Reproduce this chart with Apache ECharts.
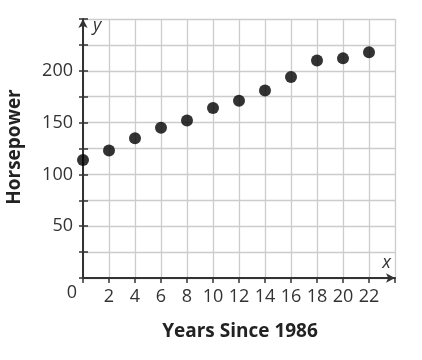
<!DOCTYPE html>
<html>
<head>
<meta charset="utf-8">
<script src="https://cdn.jsdelivr.net/npm/echarts@6/dist/echarts.min.js"></script>
<style>html,body{margin:0;padding:0;background:#fff}#c{width:422px;height:360px}</style>
</head>
<body>
<div id="c"></div>
<script>
const years = [0, 2, 4, 6, 8, 10, 12, 14, 16, 18, 20, 22];
const horsepower = [114, 123, 135, 145, 152, 164, 171, 181, 194, 210, 212, 218];
const xTickLabels = [2, 4, 6, 8, 10, 12, 14, 16, 18, 20, 22];
const yTickLabels = [50, 100, 150, 200];
const xTitle = 'Years Since 1986';
const yTitle = 'Horsepower';

const FONT = '"Open Sans", sans-serif';
const AX = '#333333';
const GRID = '#cccccc';

const chart = echarts.init(document.getElementById('c'), null, {renderer: 'canvas'});
chart.setOption({
  animation: false,
  backgroundColor: '#ffffff',
  grid: {left: 83, right: 27, top: 19, bottom: 82},
  xAxis: {
    type: 'value', min: 0, max: 24, interval: 2,
    name: 'x',
    nameLocation: 'end',
    nameGap: 0,
    nameTextStyle: {fontFamily: FONT, fontStyle: 'italic', fontSize: 18, color: AX,
      align: 'right', verticalAlign: 'bottom', padding: [0, 4, 6, 0]},
    axisLine: {show: true, lineStyle: {color: AX, width: 2},
      symbol: ['none', 'arrow'], symbolSize: [7, 9], symbolOffset: [0, 0]},
    axisTick: {show: true, length: 5, inside: false, lineStyle: {color: AX, width: 1.5}},
    axisLabel: {fontFamily: FONT, fontSize: 18, color: AX, margin: 10,
      formatter: v => xTickLabels.includes(v) ? String(v) : ''},
    splitLine: {show: true, lineStyle: {color: GRID, width: 1.3}}
  },
  yAxis: [{
    type: 'value', min: 0, max: 250, interval: 25,
    name: 'y',
    nameLocation: 'end',
    nameGap: -2,
    nameTextStyle: {fontFamily: FONT, fontStyle: 'italic', fontSize: 18, color: AX,
      align: 'left', verticalAlign: 'top', padding: [-4, 0, 0, 10]},
    axisLine: {show: true, lineStyle: {color: AX, width: 2},
      symbol: ['none', 'arrow'], symbolSize: [7, 9]},
    axisTick: {show: true, length: 4, inside: false, lineStyle: {color: AX, width: 1.5}},
    axisLabel: {fontFamily: FONT, fontSize: 18, color: AX, margin: 10,
      formatter: v => yTickLabels.includes(v) ? String(v) : ''},
    splitLine: {show: true, lineStyle: {color: GRID, width: 1.3}}
  }, {
    type: 'value', min: 0, max: 250, interval: 25, position: 'left',
    axisLine: {show: false},
    axisTick: {show: true, length: 5, inside: true, lineStyle: {color: AX, width: 1.5}},
    axisLabel: {show: false},
    splitLine: {show: false}
  }],
  graphic: [
    {type: 'text', x: 72, y: 293,
      style: {text: '0', font: '18px "Open Sans", sans-serif', fill: AX,
        textAlign: 'center', textVerticalAlign: 'middle'}},
    {type: 'text', x: 240, y: 332,
      style: {text: xTitle, font: 'bold 19px "Open Sans", sans-serif', fill: '#222',
        textAlign: 'center', textVerticalAlign: 'middle'}},
    {type: 'text', rotation: Math.PI / 2, x: 15, y: 147,
      style: {text: yTitle, font: 'bold 19px "Open Sans", sans-serif', fill: '#222',
        textAlign: 'center', textVerticalAlign: 'middle'}}
  ],
  series: [{
    type: 'scatter',
    data: years.map((x, i) => [x, horsepower[i]]),
    symbol: 'circle',
    symbolSize: 12,
    itemStyle: {color: '#000000'},
    clip: false,
    z: 5
  }]
});
</script>
</body>
</html>
